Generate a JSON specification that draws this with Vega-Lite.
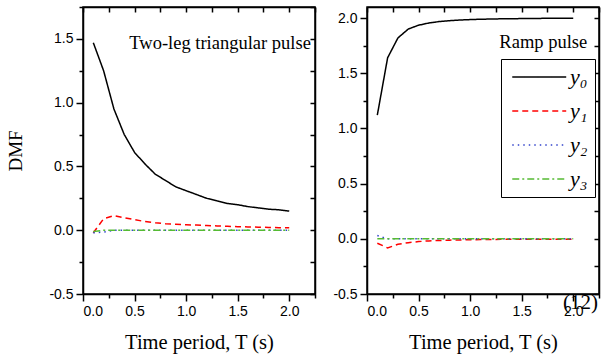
{
"$schema": "https://vega.github.io/schema/vega-lite/v6.json",
"background": "white",
"padding": {"left": 6, "top": 5, "right": 5, "bottom": 5},
"config": {
  "view": {"stroke": "black", "strokeWidth": 1.5},
  "axis": {"grid": false, "domainColor": "black", "domainWidth": 1.5, "tickColor": "black", "tickWidth": 1.5, "labelColor": "black", "labelFont": "Liberation Sans", "labelFontSize": 14, "titleFont": "Liberation Serif", "titleFontWeight": "normal", "titleColor": "black", "titleFontSize": 20.5, "labelPadding": 3}
},
"datasets": {
 "d": [
  {"p":"L","s":"y₀","T":0.1,"v":1.47},{"p":"L","s":"y₀","T":0.2,"v":1.25},{"p":"L","s":"y₀","T":0.3,"v":0.95},{"p":"L","s":"y₀","T":0.4,"v":0.75},{"p":"L","s":"y₀","T":0.5,"v":0.61},{"p":"L","s":"y₀","T":0.6,"v":0.52},{"p":"L","s":"y₀","T":0.7,"v":0.44},{"p":"L","s":"y₀","T":0.8,"v":0.39},{"p":"L","s":"y₀","T":0.9,"v":0.34},{"p":"L","s":"y₀","T":1.0,"v":0.31},{"p":"L","s":"y₀","T":1.1,"v":0.28},{"p":"L","s":"y₀","T":1.2,"v":0.25},{"p":"L","s":"y₀","T":1.3,"v":0.23},{"p":"L","s":"y₀","T":1.4,"v":0.21},{"p":"L","s":"y₀","T":1.5,"v":0.2},{"p":"L","s":"y₀","T":1.6,"v":0.185},{"p":"L","s":"y₀","T":1.7,"v":0.175},{"p":"L","s":"y₀","T":1.8,"v":0.165},{"p":"L","s":"y₀","T":1.9,"v":0.16},{"p":"L","s":"y₀","T":2.0,"v":0.15},
  {"p":"L","s":"y₁","T":0.1,"v":-0.02},{"p":"L","s":"y₁","T":0.2,"v":0.09},{"p":"L","s":"y₁","T":0.3,"v":0.115},{"p":"L","s":"y₁","T":0.4,"v":0.098},{"p":"L","s":"y₁","T":0.5,"v":0.083},{"p":"L","s":"y₁","T":0.6,"v":0.068},{"p":"L","s":"y₁","T":0.7,"v":0.058},{"p":"L","s":"y₁","T":0.8,"v":0.051},{"p":"L","s":"y₁","T":0.9,"v":0.047},{"p":"L","s":"y₁","T":1.0,"v":0.043},{"p":"L","s":"y₁","T":1.1,"v":0.04},{"p":"L","s":"y₁","T":1.2,"v":0.037},{"p":"L","s":"y₁","T":1.3,"v":0.034},{"p":"L","s":"y₁","T":1.4,"v":0.031},{"p":"L","s":"y₁","T":1.5,"v":0.028},{"p":"L","s":"y₁","T":1.6,"v":0.026},{"p":"L","s":"y₁","T":1.7,"v":0.024},{"p":"L","s":"y₁","T":1.8,"v":0.022},{"p":"L","s":"y₁","T":1.9,"v":0.02},{"p":"L","s":"y₁","T":2.0,"v":0.019},
  {"p":"L","s":"y₂","T":0.1,"v":-0.02},{"p":"L","s":"y₂","T":0.2,"v":-0.015},{"p":"L","s":"y₂","T":0.3,"v":0.0},{"p":"L","s":"y₂","T":0.4,"v":0.0},{"p":"L","s":"y₂","T":0.5,"v":0.0},{"p":"L","s":"y₂","T":0.6,"v":0.0},{"p":"L","s":"y₂","T":0.7,"v":0.0},{"p":"L","s":"y₂","T":0.8,"v":0.0},{"p":"L","s":"y₂","T":0.9,"v":0.0},{"p":"L","s":"y₂","T":1.0,"v":0.0},{"p":"L","s":"y₂","T":1.1,"v":0.0},{"p":"L","s":"y₂","T":1.2,"v":0.0},{"p":"L","s":"y₂","T":1.3,"v":0.0},{"p":"L","s":"y₂","T":1.4,"v":0.0},{"p":"L","s":"y₂","T":1.5,"v":0.0},{"p":"L","s":"y₂","T":1.6,"v":0.0},{"p":"L","s":"y₂","T":1.7,"v":0.0},{"p":"L","s":"y₂","T":1.8,"v":0.0},{"p":"L","s":"y₂","T":1.9,"v":0.0},{"p":"L","s":"y₂","T":2.0,"v":0.0},
  {"p":"L","s":"y₃","T":0.1,"v":-0.01},{"p":"L","s":"y₃","T":0.2,"v":0.0},{"p":"L","s":"y₃","T":0.3,"v":0.0},{"p":"L","s":"y₃","T":0.4,"v":0.0},{"p":"L","s":"y₃","T":0.5,"v":0.0},{"p":"L","s":"y₃","T":0.6,"v":0.0},{"p":"L","s":"y₃","T":0.7,"v":0.0},{"p":"L","s":"y₃","T":0.8,"v":0.0},{"p":"L","s":"y₃","T":0.9,"v":0.0},{"p":"L","s":"y₃","T":1.0,"v":0.0},{"p":"L","s":"y₃","T":1.1,"v":0.0},{"p":"L","s":"y₃","T":1.2,"v":0.0},{"p":"L","s":"y₃","T":1.3,"v":0.0},{"p":"L","s":"y₃","T":1.4,"v":0.0},{"p":"L","s":"y₃","T":1.5,"v":0.0},{"p":"L","s":"y₃","T":1.6,"v":0.0},{"p":"L","s":"y₃","T":1.7,"v":0.0},{"p":"L","s":"y₃","T":1.8,"v":0.0},{"p":"L","s":"y₃","T":1.9,"v":0.0},{"p":"L","s":"y₃","T":2.0,"v":0.0},
  {"p":"R","s":"y₀","T":0.1,"v":1.12},{"p":"R","s":"y₀","T":0.2,"v":1.64},{"p":"R","s":"y₀","T":0.3,"v":1.82},{"p":"R","s":"y₀","T":0.4,"v":1.9},{"p":"R","s":"y₀","T":0.5,"v":1.935},{"p":"R","s":"y₀","T":0.6,"v":1.955},{"p":"R","s":"y₀","T":0.7,"v":1.968},{"p":"R","s":"y₀","T":0.8,"v":1.976},{"p":"R","s":"y₀","T":0.9,"v":1.982},{"p":"R","s":"y₀","T":1.0,"v":1.986},{"p":"R","s":"y₀","T":1.1,"v":1.989},{"p":"R","s":"y₀","T":1.2,"v":1.991},{"p":"R","s":"y₀","T":1.3,"v":1.993},{"p":"R","s":"y₀","T":1.4,"v":1.994},{"p":"R","s":"y₀","T":1.5,"v":1.995},{"p":"R","s":"y₀","T":1.6,"v":1.996},{"p":"R","s":"y₀","T":1.7,"v":1.997},{"p":"R","s":"y₀","T":1.8,"v":1.997},{"p":"R","s":"y₀","T":1.9,"v":1.998},{"p":"R","s":"y₀","T":2.0,"v":1.998},
  {"p":"R","s":"y₁","T":0.1,"v":-0.04},{"p":"R","s":"y₁","T":0.2,"v":-0.082},{"p":"R","s":"y₁","T":0.3,"v":-0.05},{"p":"R","s":"y₁","T":0.4,"v":-0.035},{"p":"R","s":"y₁","T":0.5,"v":-0.025},{"p":"R","s":"y₁","T":0.6,"v":-0.019},{"p":"R","s":"y₁","T":0.7,"v":-0.015},{"p":"R","s":"y₁","T":0.8,"v":-0.012},{"p":"R","s":"y₁","T":0.9,"v":-0.01},{"p":"R","s":"y₁","T":1.0,"v":-0.008},{"p":"R","s":"y₁","T":1.1,"v":-0.007},{"p":"R","s":"y₁","T":1.2,"v":-0.006},{"p":"R","s":"y₁","T":1.3,"v":-0.005},{"p":"R","s":"y₁","T":1.4,"v":-0.005},{"p":"R","s":"y₁","T":1.5,"v":-0.004},{"p":"R","s":"y₁","T":1.6,"v":-0.004},{"p":"R","s":"y₁","T":1.7,"v":-0.003},{"p":"R","s":"y₁","T":1.8,"v":-0.003},{"p":"R","s":"y₁","T":1.9,"v":-0.003},{"p":"R","s":"y₁","T":2.0,"v":-0.003},
  {"p":"R","s":"y₂","T":0.1,"v":0.03},{"p":"R","s":"y₂","T":0.2,"v":0.0},{"p":"R","s":"y₂","T":0.3,"v":0.0},{"p":"R","s":"y₂","T":0.4,"v":0.0},{"p":"R","s":"y₂","T":0.5,"v":0.0},{"p":"R","s":"y₂","T":0.6,"v":0.0},{"p":"R","s":"y₂","T":0.7,"v":0.0},{"p":"R","s":"y₂","T":0.8,"v":0.0},{"p":"R","s":"y₂","T":0.9,"v":0.0},{"p":"R","s":"y₂","T":1.0,"v":0.0},{"p":"R","s":"y₂","T":1.1,"v":0.0},{"p":"R","s":"y₂","T":1.2,"v":0.0},{"p":"R","s":"y₂","T":1.3,"v":0.0},{"p":"R","s":"y₂","T":1.4,"v":0.0},{"p":"R","s":"y₂","T":1.5,"v":0.0},{"p":"R","s":"y₂","T":1.6,"v":0.0},{"p":"R","s":"y₂","T":1.7,"v":0.0},{"p":"R","s":"y₂","T":1.8,"v":0.0},{"p":"R","s":"y₂","T":1.9,"v":0.0},{"p":"R","s":"y₂","T":2.0,"v":0.0},
  {"p":"R","s":"y₃","T":0.1,"v":0.0},{"p":"R","s":"y₃","T":0.2,"v":0.0},{"p":"R","s":"y₃","T":0.3,"v":0.0},{"p":"R","s":"y₃","T":0.4,"v":0.0},{"p":"R","s":"y₃","T":0.5,"v":0.0},{"p":"R","s":"y₃","T":0.6,"v":0.0},{"p":"R","s":"y₃","T":0.7,"v":0.0},{"p":"R","s":"y₃","T":0.8,"v":0.0},{"p":"R","s":"y₃","T":0.9,"v":0.0},{"p":"R","s":"y₃","T":1.0,"v":0.0},{"p":"R","s":"y₃","T":1.1,"v":0.0},{"p":"R","s":"y₃","T":1.2,"v":0.0},{"p":"R","s":"y₃","T":1.3,"v":0.0},{"p":"R","s":"y₃","T":1.4,"v":0.0},{"p":"R","s":"y₃","T":1.5,"v":0.0},{"p":"R","s":"y₃","T":1.6,"v":0.0},{"p":"R","s":"y₃","T":1.7,"v":0.0},{"p":"R","s":"y₃","T":1.8,"v":0.0},{"p":"R","s":"y₃","T":1.9,"v":0.0},{"p":"R","s":"y₃","T":2.0,"v":0.0}
 ]
},
"spacing": 52,
"bounds": "flush",
"resolve": {"scale": {"color": "independent", "strokeDash": "independent"}, "legend": {"color": "independent", "strokeDash": "independent"}},
"hconcat": [
 {
  "width": 232, "height": 287,
  "resolve": {"axis": {"x": "independent", "y": "independent"}},
  "layer": [
   {
    "data": {"name": "d"},
    "transform": [{"filter": "datum.p == 'L'"}],
    "mark": {"type": "line", "strokeWidth": 1.5, "clip": true},
    "encoding": {
     "x": {"field": "T", "type": "quantitative", "scale": {"domain": [0, 2.25], "nice": false, "zero": false},
      "axis": {"orient": "bottom", "values": [0,0.5,1,1.5,2], "format": ".1f", "tickSize": 7, "title": "Time period, T (s)", "titlePadding": 14}},
     "y": {"field": "v", "type": "quantitative", "scale": {"domain": [-0.5, 1.75], "nice": false, "zero": false},
      "axis": {"orient": "left", "values": [-0.5,0,0.5,1,1.5], "labelExpr": "replace(format(datum.value, '.1f'), '−', '-')", "tickSize": 7, "title": "DMF", "titleFontSize": 19, "titlePadding": 23}},
     "color": {"field": "s", "type": "nominal", "scale": {"domain": ["y₀","y₁","y₂","y₃"], "range": ["#000000","#ff0000","#3344cc","#55bb33"]}, "legend": null},
     "strokeDash": {"field": "s", "type": "nominal", "scale": {"domain": ["y₀","y₁","y₂","y₃"], "range": [[1,0],[6,4],[1.5,4],[7,3,2,3]]}, "legend": null}
    }
   },
   {
    "data": {"name": "d"},
    "transform": [{"filter": "datum.p == 'L'"}],
    "mark": {"type": "line", "opacity": 0},
    "encoding": {
     "x": {"field": "T", "type": "quantitative", "axis": {"orient": "bottom", "values": [0.25,0.75,1.25,1.75,2.25], "labels": false, "domain": false, "title": null, "tickSize": 4}},
     "y": {"field": "v", "type": "quantitative", "axis": {"orient": "left", "values": [-0.25,0.25,0.75,1.25,1.75], "labels": false, "domain": false, "title": null, "tickSize": 4}},
     "detail": {"field": "s"}
    }
   },
   {
    "data": {"name": "d"},
    "transform": [{"filter": "datum.p == 'L'"}],
    "mark": {"type": "line", "opacity": 0},
    "encoding": {
     "x": {"field": "T", "type": "quantitative", "axis": {"orient": "top", "values": [0,0.25,0.5,0.75,1,1.25,1.5,1.75,2,2.25], "labels": false, "title": null, "tickSize": -5}},
     "y": {"field": "v", "type": "quantitative", "axis": {"orient": "right", "values": [-0.5,-0.25,0,0.25,0.5,0.75,1,1.25,1.5,1.75], "labels": false, "title": null, "tickSize": -5}},
     "detail": {"field": "s"}
    }
   },
   {
    "data": {"values": [{"x": 2.21, "y": 1.42, "t": "Two-leg triangular pulse"}]},
    "mark": {"type": "text", "align": "right", "baseline": "alphabetic", "font": "Liberation Serif", "fontSize": 18.5, "color": "black"},
    "encoding": {
     "x": {"field": "x", "type": "quantitative", "axis": null},
     "y": {"field": "y", "type": "quantitative", "axis": null},
     "text": {"field": "t"}
    }
   }
  ]
 },
 {
  "width": 232, "height": 287,
  "resolve": {"axis": {"x": "independent", "y": "independent"}},
  "layer": [
   {
    "data": {"name": "d"},
    "transform": [{"filter": "datum.p == 'R'"}],
    "mark": {"type": "line", "strokeWidth": 1.5, "clip": true},
    "encoding": {
     "x": {"field": "T", "type": "quantitative", "scale": {"domain": [0, 2.25], "nice": false, "zero": false},
      "axis": {"orient": "bottom", "values": [0,0.5,1,1.5,2], "format": ".1f", "tickSize": 7, "title": "Time period, T (s)", "titlePadding": 14}},
     "y": {"field": "v", "type": "quantitative", "scale": {"domain": [-0.5, 2.1], "nice": false, "zero": false},
      "axis": {"orient": "left", "values": [-0.5,0,0.5,1,1.5,2], "labelExpr": "replace(format(datum.value, '.1f'), '−', '-')", "tickSize": 7, "title": null}},
     "color": {"field": "s", "type": "nominal", "scale": {"domain": ["y₀","y₁","y₂","y₃"], "range": ["#000000","#ff0000","#3344cc","#55bb33"]},
      "legend": {"orient": "none", "legendX": 134, "legendY": 52, "title": null, "strokeColor": "black", "fillColor": "white", "padding": 7, "labelFont": "Liberation Serif", "labelFontStyle": "italic", "labelFontSize": 22, "labelColor": "black", "labelOffset": 40, "rowPadding": 12, "symbolType": "M-1,0H7", "symbolSize": 182, "symbolStrokeWidth": 1.5}},
     "strokeDash": {"field": "s", "type": "nominal", "scale": {"domain": ["y₀","y₁","y₂","y₃"], "range": [[1,0],[6,4],[1.5,4],[7,3,2,3]]},
      "legend": {"orient": "none", "legendX": 134, "legendY": 52, "title": null, "strokeColor": "black", "fillColor": "white", "padding": 7, "labelFont": "Liberation Serif", "labelFontStyle": "italic", "labelFontSize": 22, "labelColor": "black", "labelOffset": 40, "rowPadding": 12, "symbolType": "M-1,0H7", "symbolSize": 182, "symbolStrokeWidth": 1.5}}
    }
   },
   {
    "data": {"name": "d"},
    "transform": [{"filter": "datum.p == 'R'"}],
    "mark": {"type": "line", "opacity": 0},
    "encoding": {
     "x": {"field": "T", "type": "quantitative", "axis": {"orient": "bottom", "values": [0.25,0.75,1.25,1.75,2.25], "labels": false, "domain": false, "title": null, "tickSize": 4}},
     "y": {"field": "v", "type": "quantitative", "axis": {"orient": "left", "values": [-0.25,0.25,0.75,1.25,1.75], "labels": false, "domain": false, "title": null, "tickSize": 4}},
     "detail": {"field": "s"}
    }
   },
   {
    "data": {"name": "d"},
    "transform": [{"filter": "datum.p == 'R'"}],
    "mark": {"type": "line", "opacity": 0},
    "encoding": {
     "x": {"field": "T", "type": "quantitative", "axis": {"orient": "top", "values": [0,0.25,0.5,0.75,1,1.25,1.5,1.75,2,2.25], "labels": false, "title": null, "tickSize": -5}},
     "y": {"field": "v", "type": "quantitative", "axis": {"orient": "right", "values": [-0.5,-0.25,0,0.25,0.5,0.75,1,1.25,1.5,1.75,2], "labels": false, "title": null, "tickSize": -5}},
     "detail": {"field": "s"}
    }
   },
   {
    "data": {"values": [{"x": 2.136, "y": 1.727, "t": "Ramp pulse", "f": 18.5}, {"x": 2.24, "y": -0.636, "t": "(12)", "f": 21}]},
    "mark": {"type": "text", "align": "right", "baseline": "alphabetic", "font": "Liberation Serif", "color": "black"},
    "encoding": {
     "x": {"field": "x", "type": "quantitative", "axis": null},
     "y": {"field": "y", "type": "quantitative", "axis": null},
     "text": {"field": "t"},
     "size": {"field": "f", "type": "quantitative", "scale": null}
    }
   }
  ]
 }
]
}
